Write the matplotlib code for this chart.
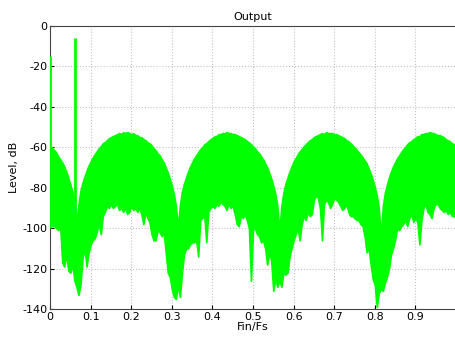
import numpy as np
import matplotlib
matplotlib.use("Agg")
import matplotlib.pyplot as plt

# spectrum, one value every 0.005 of Fin/Fs (0 .. 1)
upper_db = [
    -60, -60, -61.5, -62.5, -64.5, -66, -67.5, -69.5, -72, -75,
    -78.5, -82, -88, -97, -88, -81.5, -77.5, -74.5, -71.5, -69,
    -67, -65, -63.5, -62, -60.5, -59.5, -58, -57.5, -56.5, -55.5,
    -55, -54.5, -54, -53.5, -53, -53.5, -52.5, -53, -52.5, -53,
    -53.5, -53, -54, -54, -55, -55, -56, -56.5, -57.5, -58,
    -59, -60.5, -61.5, -63, -64, -66, -67.5, -70, -72.5, -75.5,
    -79, -83, -89, -100, -88.5, -82, -78, -75, -72, -69.5,
    -67.5, -65.5, -64, -62.5, -61, -60, -58.5, -58, -57, -56,
    -55.5, -54.5, -54.5, -53.5, -53.5, -53, -53, -52.5, -53, -53,
    -53.5, -53.5, -54, -54.5, -55, -55.5, -56, -57, -57.5, -58.5,
    -59.5, -60.5, -62, -63, -64.5, -66, -68, -70, -72.5, -75.5,
    -79, -83, -89, -101, -89, -82.5, -78, -75, -72, -69.5,
    -67, -65.5, -63.5, -62, -61, -59.5, -58.5, -57.5, -56.5, -56,
    -55, -54.5, -54, -53.5, -53, -53.5, -52.5, -53, -53, -53,
    -53.5, -53.5, -54, -54.5, -55, -55.5, -56.5, -57, -58, -59,
    -60, -61, -62.5, -63.5, -65, -66.5, -68, -70.5, -73, -76,
    -79.5, -84, -90, -104, -89, -82.5, -78.5, -75, -72, -69.5,
    -67.5, -65.5, -64, -62.5, -61, -60, -58.5, -57.5, -57, -56,
    -55.5, -54.5, -54.5, -53.5, -53.5, -53, -53, -52.5, -53, -53,
    -53.5, -54, -54, -54.5, -55, -56, -56.5, -57, -58, -58.5,
    -59,
]
lower_db = [
    -97, -99, -99, -100, -101, -99, -117, -119, -113, -121,
    -122, -118, -126, -129, -133, -128, -115, -110, -119, -112,
    -108, -106, -105, -102, -98, -103, -94, -92, -89, -90,
    -88, -90, -89, -88, -91, -90, -92, -90, -93, -92,
    -89, -91, -90, -92, -90, -93, -98, -92, -95, -97,
    -103, -106, -106, -101, -102, -104, -102, -112, -122, -124,
    -130, -134, -135, -128, -134, -122, -113, -110, -110, -108,
    -107, -107, -106, -114, -96, -95, -94, -107, -92, -90,
    -89, -90, -88, -89, -87, -88, -89, -91, -88, -90,
    -89, -93, -98, -99, -94, -95, -93, -96, -100, -126,
    -101, -100, -103, -104, -107, -106, -110, -118, -112, -116,
    -131, -125, -129, -126, -129, -122, -123, -122, -114, -110,
    -106, -103, -100, -106, -98, -94, -96, -92, -94, -93,
    -86, -84, -85, -90, -106, -88, -86, -87, -90, -88,
    -85, -86, -87, -89, -91, -90, -88, -92, -94, -94,
    -95, -96, -96, -98, -99, -104, -112, -110, -118, -125,
    -128, -139, -132, -130, -131, -127, -124, -120, -113, -110,
    -106, -100, -101, -99, -98, -96, -99, -95, -93, -97,
    -95, -97, -108, -96, -90, -88, -92, -93, -95, -90,
    -88, -88, -90, -91, -92, -91, -93, -92, -94, -94,
    -95,
]
fin_fs = np.linspace(0, 1, len(upper_db))

# the two spectral lines standing above the noise floor
tone_freqs = [0.0, 0.062]
tone_levels = [-15, -6]

x_labels = ["0", "0.1", "0.2", "0.3", "0.4", "0.5", "0.6", "0.7", "0.8", "0.9", ""]

green = "#00ff00"

plt.rcParams["font.family"] = "DejaVu Sans"
plt.rcParams["axes.unicode_minus"] = False

fig = plt.figure(figsize=(4.55, 3.37), dpi=100)
ax = fig.add_axes([0.110, 0.083, 0.892, 0.840])

ax.fill_between(fin_fs, lower_db, upper_db, color=green, linewidth=1.2,
                edgecolor=green, zorder=3)
ax.vlines(tone_freqs, -100, tone_levels, color=green, linewidth=2, zorder=3)

ax.set_xlim(0, 1)
ax.set_ylim(-140, 0)
ax.set_xticks(np.arange(0, 1.01, 0.1))
ax.set_xticklabels(x_labels)
ax.set_yticks(np.arange(-140, 1, 20))
ax.tick_params(direction="in", labelsize=8, length=3, pad=2)
ax.grid(True, linestyle=":", color="#c4c4c4", linewidth=0.8)
ax.set_axisbelow(True)
for s in ax.spines.values():
    s.set_color("#444444")
    s.set_linewidth(0.8)

ax.set_title("Output", fontsize=8, pad=4)
ax.set_xlabel("Fin/Fs", fontsize=8, labelpad=0)
ax.set_ylabel("Level, dB", fontsize=8, labelpad=2)

fig.savefig("out.png", dpi=100)
